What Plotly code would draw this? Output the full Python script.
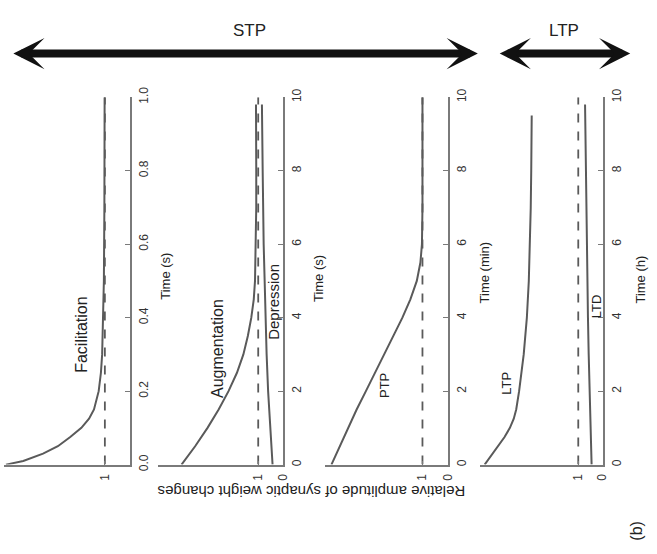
import plotly.graph_objects as go

W, H = 657, 554

# ---- data (time, relative amplitude) ----
fac_t = [0, 0.01, 0.03, 0.05, 0.075, 0.1, 0.125, 0.15, 0.2, 0.25, 0.3, 0.4, 0.5, 0.7, 1.0]
fac_a = [5.0, 4.3, 3.5, 2.9, 2.4, 1.95, 1.64, 1.44, 1.25, 1.16, 1.11, 1.06, 1.04, 1.02, 1.01]

aug_t = [0, 0.5, 1, 1.5, 2, 2.5, 3, 3.5, 4, 4.5, 5, 6, 7, 8, 9, 9.8]
aug_a = [4.1, 3.55, 3.05, 2.6, 2.2, 1.86, 1.6, 1.42, 1.28, 1.18, 1.13, 1.1, 1.08, 1.08, 1.08, 1.09]

dep_t = [0, 1, 2, 3, 4, 5, 6, 8, 9.8]
dep_a = [0.42, 0.52, 0.6, 0.66, 0.71, 0.75, 0.78, 0.82, 0.85]

ptp_t = [0, 0.5, 1, 1.5, 2, 2.5, 3, 3.5, 4, 4.5, 5, 5.5, 6, 7, 8, 10]
ptp_a = [4.54, 4.22, 3.9, 3.56, 3.2, 2.84, 2.48, 2.12, 1.78, 1.47, 1.22, 1.08, 1.02, 1.0, 1.0, 1.0]

ltp_t = [0, 0.25, 0.5, 0.75, 1, 1.25, 1.5, 2, 3, 4, 5, 6, 7, 8, 9.5]
ltp_a = [4.86, 4.58, 4.3, 4.04, 3.82, 3.66, 3.56, 3.44, 3.25, 3.12, 3.04, 2.99, 2.96, 2.94, 2.92]

ltd_t = [0, 1, 2, 3, 4, 5, 6, 7, 8, 9, 9.8]
ltd_a = [0.45, 0.5, 0.54, 0.57, 0.6, 0.62, 0.64, 0.66, 0.68, 0.7, 0.72]

base_t_s = [0, 1.0]
base_t = [0, 10]
base_a = [1, 1]

time_titles = ["Time (s)", "Time (s)", "Time (min)", "Time (h)"]
curve_labels = ["Facilitation", "Augmentation", "Depression", "PTP", "LTP", "LTD"]
header_labels = ["STP", "LTP"]
ylabel = "Relative amplitude of synaptic weight changes"

# ---- layout geometry (pixels) ----
panels_px = [(4, 131), (160, 286), (328, 453), (485, 609)]
amp_max = [5.08, 5.04, 4.81, 5.06]
ytop, ybot = 90, 469

def px(x):
    return x / W

def py(y):
    return 1 - y / H

curve_col = "#5a5a5a"
axis_col = "#7a7a7a"
font_fam = "Liberation Sans, Arial, Helvetica, sans-serif"

fig = go.Figure()

def add_line(t, a, i, dash="solid", width=2.0):
    sfx = "" if i == 0 else str(i + 1)
    fig.add_trace(go.Scatter(x=a, y=t, mode="lines", xaxis="x" + sfx, yaxis="y" + sfx,
                             line=dict(color=curve_col, width=width, dash=dash),
                             showlegend=False, hoverinfo="skip"))

add_line(base_t_s, base_a, 0, dash="dash", width=1.8)
add_line(fac_t, fac_a, 0)
add_line(base_t, base_a, 1, dash="dash", width=1.8)
add_line(aug_t, aug_a, 1)
add_line(dep_t, dep_a, 1)
add_line(base_t, base_a, 2, dash="dash", width=1.8)
add_line(ptp_t, ptp_a, 2)
add_line(base_t, base_a, 3, dash="dash", width=1.8)
add_line(ltp_t, ltp_a, 3)
add_line(ltd_t, ltd_a, 3)

layout = dict(
    width=W, height=H, margin=dict(l=0, r=0, t=0, b=0),
    paper_bgcolor="white", plot_bgcolor="white",
    font=dict(family=font_fam, color="#222", size=12),
    showlegend=False,
)

for i, ((x0, x1), amax) in enumerate(zip(panels_px, amp_max)):
    sfx = "" if i == 0 else str(i + 1)
    xa = dict(domain=[px(x0), px(x1)], range=[amax, 0], anchor="y" + sfx,
              showline=True, linecolor=axis_col, linewidth=1.5, showgrid=False, zeroline=False,
              ticks="inside", ticklen=4, tickcolor=axis_col, tickangle=-90,
              ticklabelstandoff=3,
              tickfont=dict(size=12, color="#333"), fixedrange=True)
    if i == 0:
        xa.update(tickvals=[1], ticktext=["1"])
    else:
        xa.update(tickvals=[0, 1], ticktext=["0", "1"])
    if i == 0:
        ya = dict(range=[0, 1], tickvals=[0, 0.2, 0.4, 0.6, 0.8, 1.0],
                  ticktext=["0.0", "0.2", "0.4", "0.6", "0.8", "1.0"])
    else:
        ya = dict(range=[0, 10], tickvals=[0, 2, 4, 6, 8, 10],
                  ticktext=["0", "2", "4", "6", "8", "10"])
    ya.update(domain=[py(ybot), py(ytop)], anchor="x" + sfx, side="right",
              showline=True, linecolor=axis_col, linewidth=1.5, showgrid=False, zeroline=False,
              ticks="inside", ticklen=5, tickcolor=axis_col, tickangle=-90,
              ticklabelstandoff=2,
              tickfont=dict(size=12, color="#333"), fixedrange=True)
    layout["xaxis" + sfx] = xa
    layout["yaxis" + sfx] = ya

fig.update_layout(**layout)

def label(text, x, y, size=13, angle=-90):
    fig.add_annotation(text=text, x=px(x), y=py(y), xref="paper", yref="paper",
                       showarrow=False, textangle=angle, xanchor="center", yanchor="middle",
                       font=dict(size=size, color="#222", family=font_fam))

# axis titles
label(time_titles[0], 167, 275, 13)
label(time_titles[1], 322, 277, 13)
label(time_titles[2], 490, 271, 13)
label(time_titles[3], 647, 278, 13)
# curve labels
label(curve_labels[0], 83, 335, 16)
label(curve_labels[1], 220, 349, 16)
label(curve_labels[2], 277, 301, 15)
label(curve_labels[3], 388, 387, 13)
label(curve_labels[4], 512, 385, 13)
label(curve_labels[5], 603, 306, 13)
# header
label(header_labels[0], 252, 21, 17, 0)
label(header_labels[1], 570, 21, 17, 0)
label(ylabel, 315, 497, 15, 180)
label("(b)", 643, 537, 16, -90)

# double-headed arrows
for (xa0, xa1) in [(17, 483), (505, 637)]:
    fig.add_annotation(x=px(xa1), y=py(45), ax=-(xa1 - xa0), ay=0, xref="paper", yref="paper",
                       text="", showarrow=True,
                       arrowside="end+start", arrowhead=3, startarrowhead=3,
                       arrowsize=0.65, startarrowsize=0.65, arrowwidth=8, arrowcolor="#111")

fig.write_html("out.html")
